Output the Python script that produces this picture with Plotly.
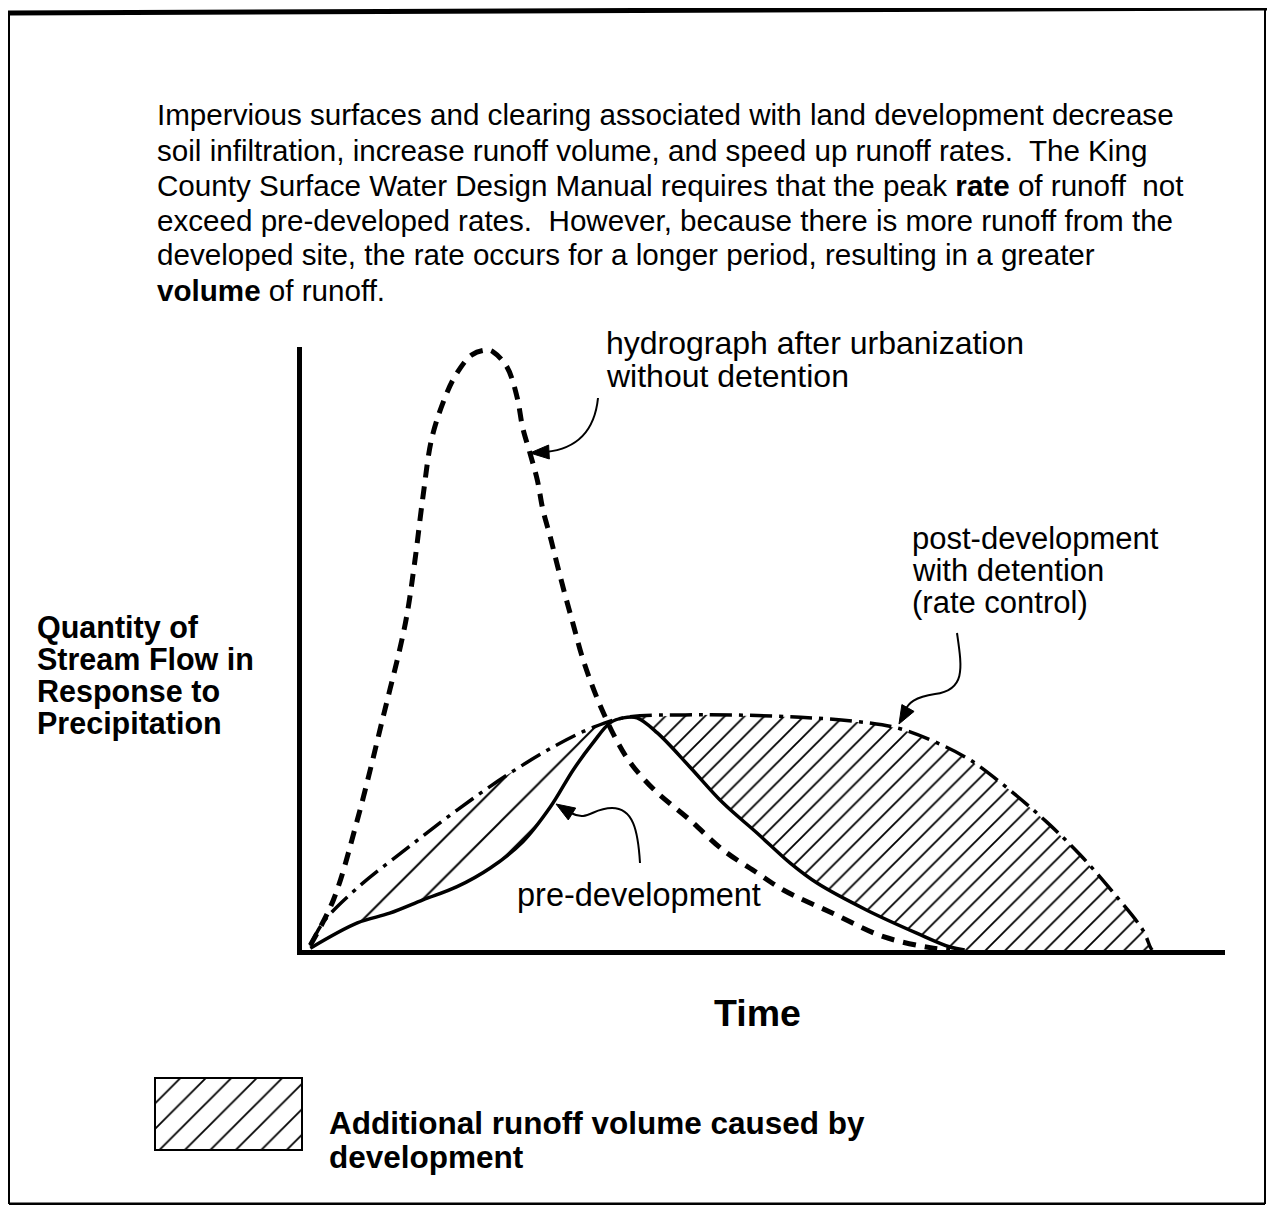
import plotly.graph_objects as go

W, H = 1275, 1213
OFF = 8  # the page body margin shifts the figure by this many pixels
FW, FH = W - 2 * OFF, H - 2 * OFF

# ---------------- data (arbitrary time / flow units) ----------------
urban_t = [0.9, 3.4, 6.0, 8.7, 11.2, 12.2, 13.1, 14.1, 15.7, 16.8, 18.4, 20.0, 20.7,
           22.2, 23.3, 23.9, 24.7, 25.5, 26.1, 26.9, 27.6, 28.5, 29.4, 30.3, 31.4,
           32.6, 33.9, 35.5, 38.2, 42.0, 45.6, 49.3, 52.1, 57.5, 63.0, 68.4, 70.2]
urban_q = [0.8, 8.3, 21.6, 38.1, 54.2, 64.2, 75.1, 85.1, 92.4, 95.7, 98.7, 99.5, 99.2,
           96.7, 91.7, 86.7, 82.4, 77.9, 73.0, 68.5, 64.2, 58.9, 53.9, 48.9, 44.0,
           39.5, 35.3, 31.2, 26.5, 21.6, 16.6, 12.8, 10.0, 6.1, 2.2, 0.3, 0.0]

post_t = [0.9, 2.3, 6.0, 11.4, 16.8, 22.2, 27.6, 31.2, 34.8, 43.1, 54.0, 61.2,
          64.8, 68.6, 72.4, 76.7, 80.7, 84.3, 87.9, 91.1, 91.9, 92.1]
post_q = [0.7, 4.6, 10.3, 16.9, 23.2, 29.0, 34.0, 36.7, 38.5, 39.0, 38.6, 37.7,
          36.7, 34.5, 31.5, 26.5, 21.2, 15.8, 9.5, 3.3, 0.5, 0.0]

pre_t = [0.9, 6.0, 9.5, 13.1, 16.8, 20.4, 23.9, 26.9, 29.4, 31.5, 33.4, 34.8,
         36.3, 38.5, 42.0, 45.6, 49.3, 52.9, 55.8, 61.2, 66.6, 70.2, 71.8]
pre_q = [0.3, 4.5, 6.1, 8.3, 10.5, 13.6, 17.9, 23.7, 29.9, 34.3, 37.7, 38.5,
         38.5, 36.0, 30.4, 24.4, 19.4, 14.4, 11.1, 6.6, 2.8, 0.5, 0.0]

# the two curves meet at the peak of the pre-development hydrograph
meet_t = 34.8

body_lines = [
    "Impervious surfaces and clearing associated with land development decrease",
    "soil infiltration, increase runoff volume, and speed up runoff rates.  The King",
    "County Surface Water Design Manual requires that the peak <b>rate</b> of runoff  not",
    "exceed pre-developed rates.  However, because there is more runoff from the",
    "developed site, the rate occurs for a longer period, resulting in a greater",
    "<b>volume</b> of runoff.",
]
ylabel_lines = ["Quantity of", "Stream Flow in", "Response to", "Precipitation"]
urban_label = ["hydrograph after urbanization", "without detention"]
post_label = ["post-development", "with detention", "(rate control)"]
pre_label = "pre-development"
x_title = "Time"
legend_lines = ["Additional runoff volume caused by", "development"]

# ---------------- layout helpers ----------------
FONT = "Liberation Sans, Arial, Helvetica, sans-serif"


def px(x):
    return (x - OFF) / FW


def py(y):
    return 1 - (y - OFF) / FH


def path(*segs):
    out = []
    for seg in segs:
        cmd, pts = seg[0], seg[1:]
        out.append(cmd + " " + " ".join(f"{px(a):.5f},{py(b):.5f}" for a, b in pts))
    return " ".join(out)


def head(tip, base, hw):
    tx, ty = tip
    bx, by = base
    dx, dy = tx - bx, ty - by
    n = (dx * dx + dy * dy) ** 0.5
    nx, ny = -dy / n * hw, dx / n * hw
    return path(("M", tip), ("L", (bx + nx, by + ny)), ("L", (bx - nx, by - ny))) + " Z"


def region(lo, hi):
    ut = [t for t in post_t if lo <= t <= hi]
    uq = [q for t, q in zip(post_t, post_q) if lo <= t <= hi]
    lt = [t for t in pre_t if lo <= t <= hi]
    lq = [q for t, q in zip(pre_t, pre_q) if lo <= t <= hi]
    return ut + lt[::-1], uq + lq[::-1]


X_DOM = [px(302), px(1225)]
Y_DOM = [py(950), py(347)]

fig = go.Figure()

# hatched regions: between post-development (upper) and pre-development (lower)
for (lo, hi), size, sol in (((0, meet_t), 28, 0.07), ((meet_t, 100), 14, 0.13)):
    rx, ry = region(lo, hi)
    fig.add_trace(go.Scatter(
        x=rx, y=ry, mode="lines", fill="toself",
        line=dict(width=0, color="rgba(0,0,0,0)"), fillcolor="white",
        fillpattern=dict(shape="/", size=size, solidity=sol, fgcolor="black",
                         bgcolor="white", fillmode="replace"),
        hoverinfo="skip", showlegend=False, xaxis="x", yaxis="y"))

fig.add_trace(go.Scatter(
    x=urban_t, y=urban_q, mode="lines", line_shape="spline",
    line=dict(color="black", width=5, dash="13px,9px"),
    showlegend=False, xaxis="x", yaxis="y"))
fig.add_trace(go.Scatter(
    x=pre_t, y=pre_q, mode="lines", line_shape="spline",
    line=dict(color="black", width=3.5),
    showlegend=False, xaxis="x", yaxis="y"))
fig.add_trace(go.Scatter(
    x=post_t, y=post_q, mode="lines", line_shape="spline",
    line=dict(color="black", width=3.5, dash="22px,7px,4px,7px"),
    showlegend=False, xaxis="x", yaxis="y"))

# legend swatch
fig.add_trace(go.Scatter(
    x=[0, 1, 1, 0, 0], y=[0, 0, 1, 1, 0], mode="lines", fill="toself",
    line=dict(width=0, color="rgba(0,0,0,0)"), fillcolor="white",
    fillpattern=dict(shape="/", size=18, solidity=0.1, fgcolor="black",
                     bgcolor="white", fillmode="replace"),
    hoverinfo="skip", showlegend=False, xaxis="x2", yaxis="y2"))

ann = []
for i, t in enumerate(body_lines):
    ann.append(dict(x=px(155), y=py(115 + 35 * i), text=t, font=dict(size=29.6)))
for i, t in enumerate(ylabel_lines):
    ann.append(dict(x=px(35), y=py(627 + 32 * i), text=f"<b>{t}</b>",
                    font=dict(size=30.5)))
for i, t in enumerate(urban_label):
    ann.append(dict(x=px(604), y=py(343 + 33 * i), text=t, font=dict(size=32)))
for i, t in enumerate(post_label):
    ann.append(dict(x=px(910), y=py(538 + 32 * i), text=t, font=dict(size=31)))
ann.append(dict(x=px(515), y=py(895), text=pre_label, font=dict(size=32.5)))
ann.append(dict(x=px(757), y=py(1013), text=f"<b>{x_title}</b>", xanchor="center",
                font=dict(size=37.5)))
for i, t in enumerate(legend_lines):
    ann.append(dict(x=px(327), y=py(1123 + 34 * i), text=f"<b>{t}</b>",
                    font=dict(size=31.5)))
for a in ann:
    a.setdefault("xanchor", "left")
    a["font"] = dict(family=FONT, color="black", **a["font"])
    a.update(xref="paper", yref="paper", yanchor="middle", showarrow=False)

shapes = [
    # page frame
    dict(type="line", x0=px(8), x1=px(1267), y0=py(13), y1=py(8),
         line=dict(color="black", width=5)),
    dict(type="line", x0=px(9), x1=px(9), y0=py(12), y1=py(1204),
         line=dict(color="black", width=2)),
    dict(type="line", x0=px(1265), x1=px(1265), y0=py(9), y1=py(1204),
         line=dict(color="black", width=2)),
    dict(type="line", x0=px(9), x1=px(1265), y0=py(1204), y1=py(1204),
         line=dict(color="black", width=3)),
    # legend box border
    dict(type="rect", x0=px(155), x1=px(302), y0=py(1078), y1=py(1150),
         line=dict(color="black", width=2)),
    # callout arrows
    dict(type="path", path=path(("M", (598, 398)), ("Q", (593, 447), (546, 452))),
         line=dict(color="black", width=2)),
    dict(type="path", path=head((530, 453), (549, 452), 7), fillcolor="black",
         line=dict(color="black", width=1)),
    dict(type="path", path=path(("M", (957, 633)), ("C", (962, 668), (966, 690), (935, 694)),
                                ("C", (915, 697), (908, 703), (905, 711))),
         line=dict(color="black", width=2)),
    dict(type="path", path=head((899, 724), (908, 708), 7), fillcolor="black",
         line=dict(color="black", width=1)),
    dict(type="path", path=path(("M", (640, 863)), ("C", (638, 830), (633, 808), (612, 808)),
                                ("C", (592, 808), (588, 822), (571, 813))),
         line=dict(color="black", width=2)),
    dict(type="path", path=head((556, 804), (572, 814), 7), fillcolor="black",
         line=dict(color="black", width=1)),
]
for s in shapes:
    s.update(xref="paper", yref="paper", layer="above")

axis_common = dict(showgrid=False, zeroline=False, showticklabels=False, ticks="")
fig.update_layout(
    width=FW, height=FH, margin=dict(l=0, r=0, t=0, b=0),
    paper_bgcolor="white", plot_bgcolor="white",
    xaxis=dict(domain=X_DOM, range=[0, 100], showline=True, linewidth=5,
               linecolor="black", **axis_common),
    yaxis=dict(domain=Y_DOM, range=[0, 100], showline=True, linewidth=5,
               linecolor="black", **axis_common),
    xaxis2=dict(domain=[px(155), px(302)], range=[0, 1], visible=False, anchor="y2"),
    yaxis2=dict(domain=[py(1150), py(1078)], range=[0, 1], visible=False,
                anchor="x2"),
    annotations=ann, shapes=shapes, showlegend=False,
)

fig.write_html("out.html")
